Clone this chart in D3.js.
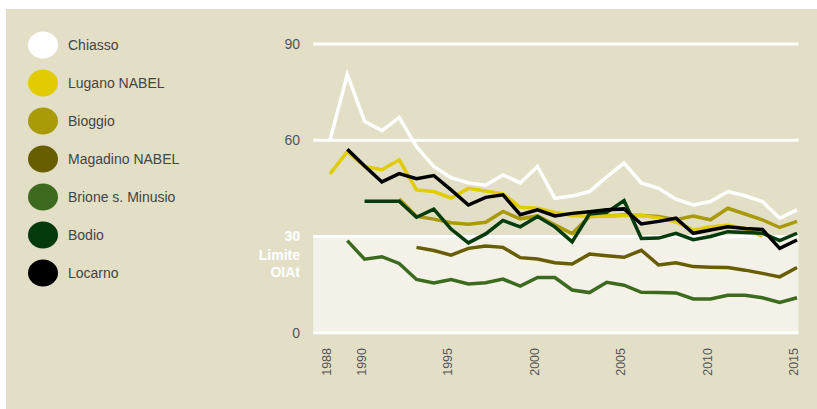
<!DOCTYPE html>
<html lang="it">
<head>
<meta charset="UTF-8">
<script src="https://d3js.org/d3.v7.min.js"></script>
<style>
    body {
        margin: 0;
        background: #fff;
        font-family: "Liberation Sans", Arial, sans-serif;
    }
    svg { display: block; }
</style>
</head>
<body>
<svg width="817" height="409"></svg>
<script>
    // annual means of NO2 (µg/m3)
    const chiasso  = [60, 80.5, 65.9, 63, 67.1, 58, 51.8, 48.3, 46.7, 46, 49.2, 46.7, 51.8, 41.9, 42.6, 44, 48.6, 52.9, 46.7, 45, 41.6, 39.8, 40.9, 44, 42.7, 40.9, 35.7, 38.3]; // 1988-2015
    const lugano   = [49.5, 56.4, 51.8, 50.8, 53.9, 44.5, 44, 42, 45, 44.2, 43.3, 39.1, 38.8, 37.5, 36.5, 36.3, 36.3, 36.5, 36.5, 35.8, 34.5, 32, 33, 33.5, 32.5, 30]; // 1988-2013
    const bioggio  = [41.7, 36.3, 35.4, 34.3, 33.8, 34.4, 37.8, 35.5, 36.4, 33.6, 30.9, 36.2, 36.4, 36.7, 36.5, 36.2, 35.2, 36.4, 35.2, 38.8, 37, 35.2, 32.8, 34.7]; // 1992-2015
    const magadino = [26.6, 25.6, 24.2, 26.3, 27, 26.6, 23.4, 23, 21.8, 21.4, 24.5, 24, 23.5, 25.7, 21.1, 21.8, 20.6, 20.4, 20.3, 19.5, 18.5, 17.4, 20.3]; // 1993-2015
    const brione   = [28.7, 22.9, 23.7, 21.6, 16.6, 15.5, 16.6, 15.2, 15.6, 16.7, 14.5, 17.2, 17.2, 13.3, 12.5, 15.7, 14.8, 12.6, 12.5, 12.4, 10.5, 10.5, 11.7, 11.7, 10.9, 9.4, 10.9]; // 1989-2015
    const bodio    = [41, 41, 41, 36, 38.5, 32.3, 28, 30.8, 35, 33, 36.2, 33, 28.3, 37, 37.5, 41.2, 29.4, 29.5, 31, 29, 30, 31.5, 31.2, 31, 28.7, 31]; // 1990-2015
    const locarno  = [57.2, 52, 47, 49.6, 48, 49, 44.5, 39.8, 42.2, 43, 36.8, 38.3, 36.4, 37.2, 37.7, 38.3, 38.6, 33.9, 34.7, 35.7, 31, 32, 33, 32.5, 32.2, 26.3, 28.9]; // 1989-2015

    const names      = ["Chiasso", "Lugano NABEL", "Bioggio", "Magadino NABEL", "Brione s. Minusio", "Bodio", "Locarno"];
    const firstYears = [1988, 1988, 1992, 1993, 1989, 1990, 1989];
    const values     = [chiasso, lugano, bioggio, magadino, brione, bodio, locarno];
    const colors     = ["#ffffff", "#e0cc00", "#a99b08", "#685d00", "#3c6b1f", "#033b0d", "#000000"];
    const drawOrder  = [4, 3, 2, 1, 5, 0, 6];

    const xTicks = [1988, 1990, 1995, 2000, 2005, 2010, 2015];
    const yTicks = [0, 30, 60, 90];
    const limit = 30;

    const svg = d3.select("svg");

    const x = d3.scaleLinear().domain([1988, 2015]).range([330, 797]);
    const y = d3.scaleLinear().domain([0, 90]).range([332.7, 44]);

    // background panel
    svg.append("rect")
        .attr("x", 6).attr("y", 9)
        .attr("width", 811).attr("height", 400)
        .attr("fill", "#e3dfc7");

    const x0 = x(1987) + 0.5;
    const x1 = x(2015) + 1.5;

    // zone under the limit
    svg.append("rect")
        .attr("x", x0).attr("y", y(limit))
        .attr("width", x1 - x0).attr("height", y(0) - y(limit))
        .attr("fill", "#f4f2e8");

    // grid lines
    svg.selectAll(".grid")
        .data(yTicks)
        .enter()
        .append("line")
        .attr("x1", x0).attr("x2", x1)
        .attr("y1", d => y(d)).attr("y2", d => y(d))
        .attr("stroke", "#fff")
        .attr("stroke-width", 3);

    // y labels
    svg.selectAll(".ylab")
        .data(yTicks)
        .enter()
        .append("text")
        .attr("x", 300)
        .attr("y", d => y(d))
        .attr("dy", "0.35em")
        .attr("text-anchor", "end")
        .style("font-size", "14px")
        .style("font-weight", d => d === limit ? "bold" : "normal")
        .style("fill", d => d === limit ? "#fff" : "#555")
        .text(d => d);

    svg.selectAll(".limlab")
        .data(["Limite", "OIAt"])
        .enter()
        .append("text")
        .attr("x", 300)
        .attr("y", (d, i) => y(limit) + 19 + i * 17)
        .attr("dy", "0.35em")
        .attr("text-anchor", "end")
        .style("font-size", "14px")
        .style("font-weight", "bold")
        .style("fill", "#fff")
        .text(d => d);

    // x labels, rotated
    svg.selectAll(".xlab")
        .data(xTicks)
        .enter()
        .append("text")
        .attr("transform", d => `translate(${x(d) + 1},348) rotate(-90)`)
        .attr("text-anchor", "end")
        .style("font-size", "12.5px")
        .style("fill", "#555")
        .text(d => d);

    // lines
    const line = d3.line()
        .x(d => x(d.year))
        .y(d => y(d.value));

    drawOrder.forEach(i => {
        const pts = values[i].map((v, k) => ({ year: firstYears[i] + k, value: v }));
        svg.append("path")
            .datum(pts)
            .attr("fill", "none")
            .attr("stroke", colors[i])
            .attr("stroke-width", 3.5)
            .attr("stroke-linejoin", "miter")
            .attr("d", line);
    });

    // legend
    const legend = svg.selectAll(".legend")
        .data(names)
        .enter()
        .append("g")
        .attr("transform", (d, i) => `translate(43,${45 + i * 38})`);

    legend.append("ellipse")
        .attr("rx", 15).attr("ry", 13.5)
        .attr("fill", (d, i) => colors[i]);

    legend.append("text")
        .attr("x", 25)
        .attr("dy", "0.35em")
        .style("font-size", "14px")
        .style("fill", "#444")
        .text(d => d);
</script>
</body>
</html>
